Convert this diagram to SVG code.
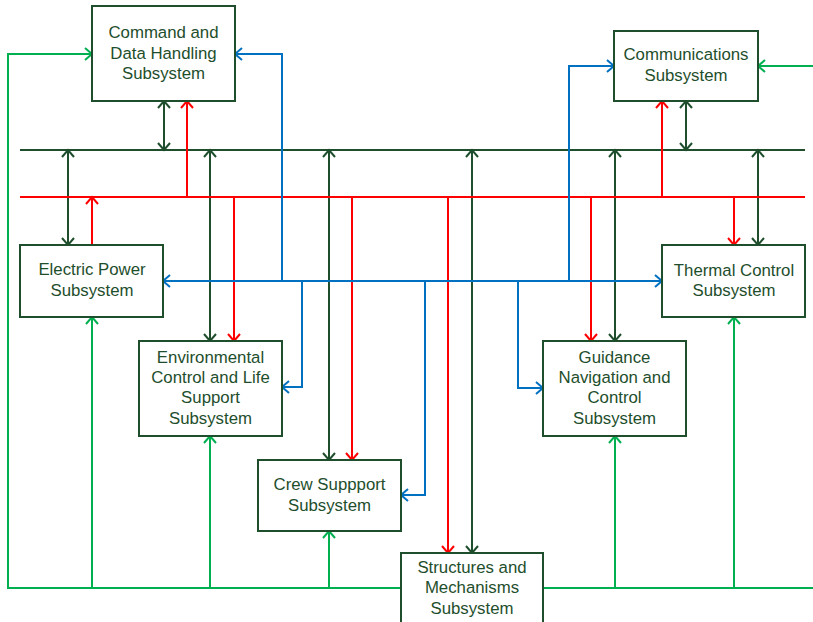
<svg xmlns="http://www.w3.org/2000/svg" width="813" height="622" viewBox="0 0 813 622">
<style>
.box{fill:#fff;stroke:#1e4e2c;stroke-width:2}
.t{font-family:"Liberation Sans",Arial,sans-serif;font-size:16.8px;fill:#1e4e2c;text-anchor:middle}
.c{fill:none;stroke-width:2}
.dk{stroke:#1e4e2c}
.rd{stroke:#ff0000}
.bl{stroke:#0070c0}
.gr{stroke:#00b050}
.dk2{stroke:#1e4e2c;marker-start:url(#mdk);marker-end:url(#mdk)}
.rd1{stroke:#ff0000;marker-end:url(#mrd)}
.bl1{stroke:#0070c0;marker-end:url(#mbl)}
.gr1{stroke:#00b050;marker-end:url(#mgr)}
</style>
<defs>
<marker id="mdk" markerUnits="userSpaceOnUse" markerWidth="12" markerHeight="16" viewBox="-10 -8 12 16" refX="0" refY="0" orient="auto-start-reverse"><path d="M-7,-6 L0,0 L-7,6" fill="none" stroke="#1e4e2c" stroke-width="2"/></marker>
<marker id="mrd" markerUnits="userSpaceOnUse" markerWidth="12" markerHeight="16" viewBox="-10 -8 12 16" refX="0" refY="0" orient="auto-start-reverse"><path d="M-7,-6 L0,0 L-7,6" fill="none" stroke="#ff0000" stroke-width="2"/></marker>
<marker id="mbl" markerUnits="userSpaceOnUse" markerWidth="12" markerHeight="16" viewBox="-10 -8 12 16" refX="0" refY="0" orient="auto-start-reverse"><path d="M-7,-6 L0,0 L-7,6" fill="none" stroke="#0070c0" stroke-width="2"/></marker>
<marker id="mgr" markerUnits="userSpaceOnUse" markerWidth="12" markerHeight="16" viewBox="-10 -8 12 16" refX="0" refY="0" orient="auto-start-reverse"><path d="M-7,-6 L0,0 L-7,6" fill="none" stroke="#00b050" stroke-width="2"/></marker>
</defs>
<rect width="813" height="622" fill="#fff"/>
<g id="connectors">
<path class="c dk" d="M20,150 H805"/>
<path class="c dk2" d="M164,101 V150"/>
<path class="c dk2" d="M68,150 V245"/>
<path class="c dk2" d="M210,150 V341"/>
<path class="c dk2" d="M329,150 V460"/>
<path class="c dk2" d="M472,150 V553"/>
<path class="c dk2" d="M615,150 V341"/>
<path class="c dk2" d="M686,101 V150"/>
<path class="c dk2" d="M758,150 V245"/>
<path class="c rd" d="M20,197 H805"/>
<path class="c rd1" d="M187,197 V101"/>
<path class="c rd1" d="M92,245 V197"/>
<path class="c rd1" d="M234,197 V341"/>
<path class="c rd1" d="M352,197 V460"/>
<path class="c rd1" d="M448,197 V553"/>
<path class="c rd1" d="M591,197 V341"/>
<path class="c rd1" d="M662,197 V101"/>
<path class="c rd1" d="M734,197 V245"/>
<path class="c bl" d="M163,281 H662" style="marker-start:url(#mbl);marker-end:url(#mbl)"/>
<path class="c bl1" d="M282,281 V54 H235"/>
<path class="c bl1" d="M569,281 V66 H614"/>
<path class="c bl1" d="M302,281 V387 H282"/>
<path class="c bl1" d="M425,281 V495 H401"/>
<path class="c bl1" d="M518,281 V388 H543"/>
<path class="c gr1" d="M401,588 H8 V54 H92"/>
<path class="c gr1" d="M92,588 V317"/>
<path class="c gr1" d="M210,588 V436"/>
<path class="c gr1" d="M329,588 V531"/>
<path class="c gr" d="M543,588 H813"/>
<path class="c gr1" d="M615,588 V436"/>
<path class="c gr1" d="M734,588 V317"/>
<path class="c gr1" d="M813,66 H758"/>
</g>
<g id="cdh"><rect class="box" x="92" y="6" width="143" height="95"/>
<text class="t" x="163.5" y="38">Command and</text><text class="t" x="163.5" y="58.5">Data Handling</text><text class="t" x="163.5" y="79">Subsystem</text></g>
<g id="comms"><rect class="box" x="614" y="31" width="144" height="70"/>
<text class="t" x="686" y="60">Communications</text><text class="t" x="686" y="80.5">Subsystem</text></g>
<g id="eps"><rect class="box" x="20" y="245" width="143" height="72"/>
<text class="t" x="92" y="275">Electric Power</text><text class="t" x="92" y="295.5">Subsystem</text></g>
<g id="thermal"><rect class="box" x="662" y="245" width="143" height="72"/>
<text class="t" x="734" y="275.5">Thermal Control</text><text class="t" x="734" y="296">Subsystem</text></g>
<g id="eclss"><rect class="box" x="139" y="341" width="143" height="95"/>
<text class="t" x="210.5" y="362.5">Environmental</text><text class="t" x="210.5" y="383">Control and Life</text><text class="t" x="210.5" y="403">Support</text><text class="t" x="210.5" y="423.5">Subsystem</text></g>
<g id="gnc"><rect class="box" x="543" y="341" width="143" height="95"/>
<text class="t" x="614.5" y="362.5">Guidance</text><text class="t" x="614.5" y="383">Navigation and</text><text class="t" x="614.5" y="403">Control</text><text class="t" x="614.5" y="423.5">Subsystem</text></g>
<g id="crew"><rect class="box" x="258" y="460" width="143" height="71"/>
<text class="t" x="329.5" y="490">Crew Suppport</text><text class="t" x="329.5" y="510.5">Subsystem</text></g>
<g id="structures"><rect class="box" x="401" y="553" width="142" height="80"/>
<text class="t" x="472" y="572.5">Structures and</text><text class="t" x="472" y="593">Mechanisms</text><text class="t" x="472" y="613.5">Subsystem</text></g>
</svg>
